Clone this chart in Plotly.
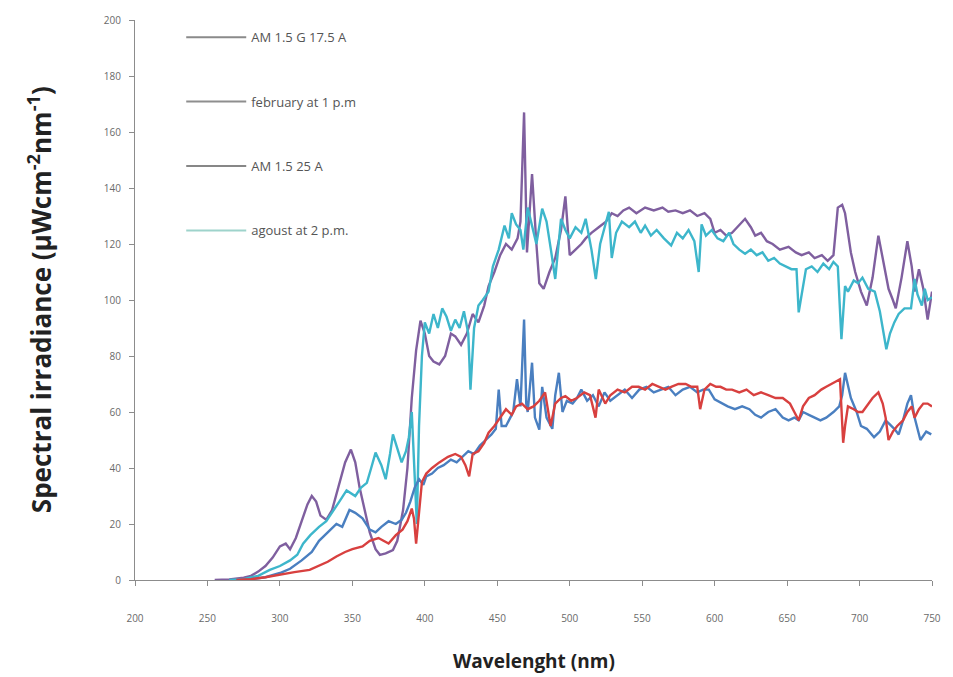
import plotly.graph_objects as go

# ---- AM 1.5 25 A (purple, high) ----
am25_x = [255,265,275,280,285,290,295,300,304,307,
          311,316,319,322,325,328,332,336,341,345,
          349,352,355,359,362,366,369,373,378,381,
          385,388,391,394,397,400,403,406,410,414,
          418,421,425,429,433,437,441,444,448,452,
          456,460,464,466,468.5,470.5,472,474,477,479,
          482,486,490,494,497,500,504,508,511,515,
          520,525,529,533,537,541,546,552,558,564,
          568,573,578,583,588,593,597,600,604,608,
          612,617,621,625,628,632,636,640,645,651,
          656,660,665,669,674,678,682,685,688,690,
          692,694,697,701,705,709,713,716,720,723,
          725,729,733,736,738,741,744,747,750]
am25_y = [0,0.2,0.8,1.5,3,5,8,12,13,11,
          15,23,27,30,28,23,21.5,25,35,42,
          46.6,42,33,24,17,11,9,9.5,10.7,14,
          25,40,65,82,92.6,88,80,78,77,80,
          88,87,84,88,95,92,98,105,110,116,
          120,118,122,128,167,117,130,145,120,106,
          104,110,115,125,137,116,118,120,122,124,
          126,128,131,130,132,133,131,133,132,133,
          131.5,132,131,132,130,131,129,124,125,123,
          124,127,129,126,123,124,121,120,118,119,
          117,116,117,115,116,114,116,133,134,131,
          124,117,110,103,98,108,123,115,104,100,
          97,108,121,112,103,111,104,93,103]

# ---- agoust at 2 p.m. (cyan, high) ----
aug_x = [265,275,285,293,300,307,312,316,321,327,
         332,336,341,346,352,356,360,363,366,370,
         373,376,378,381,384,387,389,391,393,394.5,
         396,398,400,403,406,409,412,415,418,421,
         424,427,430,431.5,434,437,440,444,447,451,
         455,458,460,463,466,468,471,474,477,481,
         484,487,490,494,497,500,504,508,511,515,
         518,521,524,527,529,532,536,541,545,549,
         552,556,560,565,570,574,578,582,586,589,
         591,594,598,602,606,610,613,617,621,625,
         629,633,637,641,645,649,653,656.5,658,663,
         667,671,675,679,682,685,687.5,690,692,696,
         699,702,706,710.5,714,718.5,721,724,727,731,
         735.5,738,740,743,745,747,750]
aug_y = [0,0.3,1.5,3.6,5,7,9,13,16,19,
         21,24,28,32,30,33,34.7,40,45.5,41,
         36,45,52,47,42,46,51,60,40,20,
         55,80,92,88,95,90,97,94,89,93,
         90,96,88,68,90,98,100,103,112,118,
         126.6,122,131,127,125,118,133,126.6,120,132.6,
         128,118,107.5,129,125,122,126,124,129,118,
         107.5,120,126,131.5,115,124,128,126,128,124,
         126.6,123,125,122,119.5,124,122,125,121,110,
         127,123,125,122,121,124,120,118,116.5,118,
         116,117,114,115,113,112,111,111,95.6,111,
         112,110,113,111,113.6,112,86,105,103,107,
         106,108,104,103,96,82.4,88,92,95,97,
         97,107.5,102,98,104,100,101]

# ---- AM 1.5 G 17.5 A (blue, low) ----
am175_x = [270,280,290,300,307,315,322,327,333,339,
           343,348,352,357,362,366,370,375,380,384,
           387,390,393,396,399,401,405,409,413,418,
           422,426,430,434,438,442,446,449,451,453,
           456,459,461,463.6,466,468.5,470,471,474,476,
           479,481,484,488,490,492.5,495,498,502,505,
           508,512,516,520,524,528,533,538,543,548,
           553,558,563,568,573,578,583,588,592,596,
           600,605,609,614,619,624,628,632,637,642,
           647,651,655,658,661,665,669,673,677,682,
           686,688,690,692,694,698,701,705,710,714,
           718,720,724,727,730,733,735.5,738,742,746,749.5]
am175_y = [0,0.3,1,2.5,4,7,10,14,17,20,
           19,25,24,22,18,17,19,21,20,21.5,
           24,28,33,36,34,37,38,40,41,43,
           42,44,46,45,48,50,52,54,68,55,
           55,58,60,71.7,62,93,63,60,77.6,58,
           53.7,69,58,54,66,74,60,64,63,65,
           68,64,66,62,67,64,66,68,65,68,
           69,67,68,69,66,68,69,67,68,68,
           64.5,63,62,61,62,61,59,58,60,61,
           58,57,58,57,60,59,58,57,58,60,
           62,66,74,69,65,60,55,54,51,53,
           57,56,54,52,57,63,66,58,50,53,52]

# ---- february at 1 p.m. (red, low) ----
feb_x = [270,280,290,300,310,320.5,327,333,339,345,
         350,357,362,368,375,380,384.6,388,391,392.5,
         394,396,398,401,405,410,416,421,425,428,
         430.6,433,437,441,444,448,452,456,460,463,
         467,471,475,479,483,486.8,490,494,497,501,
         505,510,514,517.8,520,524.5,528,533,538,543,
         547.6,552,557,562,566,570,575,580,584,588,
         590,593,597,601,604,608,612,617,622,627,
         632,637,642,647,652,655,658,661,665,669,
         673.6,677,681,684,686.5,688.7,690,692,696,699,
         702,705,709,713,716,718,720,723,726,730,
         733,736,738,741,744,747,750]
feb_y = [0,0.3,1,2,2.8,3.6,5,6.5,8.4,10,
         11,12,14,15,13,16,18,21,25.5,22,
         13,24,35,38,40,42,44,45,44,41,
         37,45,46,49,52.6,55,58,61,59,62,
         63,61,62,64,67,55,63,65,65.7,64,
         65,67,66,58,68,63,66,68,67,69,
         69,68,70,69,68,69,70,70,69,69,
         61,68,70,69,69,68,68,67,68,66,
         67,66,65,65,63,60,57,62,65,66,
         68,69,70,71,71.7,49,55,62,61,60,
         60,62,65,67,63,58,50,53,55,57,
         60,62,58,61,63,63,62]

legend_names = ["AM 1.5 G 17.5 A", "february at 1 p.m", "AM 1.5 25 A", "agoust at 2 p.m."]
x_ticks = [200, 250, 300, 350, 400, 450, 500, 550, 600, 650, 700, 750]
y_ticks = [0, 20, 40, 60, 80, 100, 120, 140, 160, 180, 200]
x_title = "Wavelenght (nm)"
y_title = "Spectral irradiance (µWcm<sup>-2</sup>nm<sup>-1</sup>)"

for a, b in [(am25_x, am25_y), (aug_x, aug_y), (am175_x, am175_y), (feb_x, feb_y)]:
    assert len(a) == len(b), (len(a), len(b))

fig = go.Figure()
series = [
    (am25_x, am25_y, "#7f5f9f"),
    (aug_x, aug_y, "#3db6cb"),
    (am175_x, am175_y, "#4a7fc0"),
    (feb_x, feb_y, "#d8403f"),
]
for xs, ys, col in series:
    fig.add_trace(go.Scatter(x=xs, y=ys, mode="lines", showlegend=False,
                             line=dict(color=col, width=2.4), hoverinfo="x+y"))

legend_cols = ["#8a8a8a", "#8e8e8e", "#878787", "#9ed3cb"]
for i, (nm, col) in enumerate(zip(legend_names, legend_cols)):
    fig.add_trace(go.Scatter(x=[None], y=[None], mode="lines", name=nm,
                             legendgroup=f"g{i}", line=dict(color=col, width=2)))

axis_common = dict(showgrid=False, zeroline=False, showline=True, linecolor="#8c8c8c",
                   linewidth=1, ticks="outside", tickcolor="#8c8c8c", ticklen=5,
                   tickfont=dict(family="Open Sans", size=10, color="#6a6a6a"))
fig.update_xaxes(range=[200, 750], tickvals=x_ticks, ticklabelstandoff=24, **axis_common)
fig.update_yaxes(range=[0, 200], tickvals=y_ticks, ticklabelstandoff=6, **axis_common)

fig.add_annotation(text=x_title, xref="paper", yref="paper", x=0.5, y=-0.145,
                   xanchor="center", yanchor="middle", showarrow=False,
                   font=dict(family="Open Sans", size=19, color="#222", weight="bold"))
fig.add_annotation(text=y_title, xref="paper", yref="paper", x=-0.119, y=0.5,
                   xanchor="center", yanchor="middle", showarrow=False, textangle=-90,
                   font=dict(family="Open Sans", size=26, color="#222", weight="bold"))

fig.update_layout(
    width=953, height=677,
    margin=dict(l=135, r=19, t=20, b=97),
    paper_bgcolor="white", plot_bgcolor="white",
    legend=dict(x=0.058, y=0.996, xanchor="left", yanchor="top",
                bgcolor="rgba(0,0,0,0)", tracegroupgap=44.5, itemwidth=60,
                font=dict(family="Open Sans", size=13, color="#555")),
)

fig.write_html("out.html", config={"displayModeBar": False},
               post_script="document.body.style.margin='0';document.body.style.overflow='hidden';")
